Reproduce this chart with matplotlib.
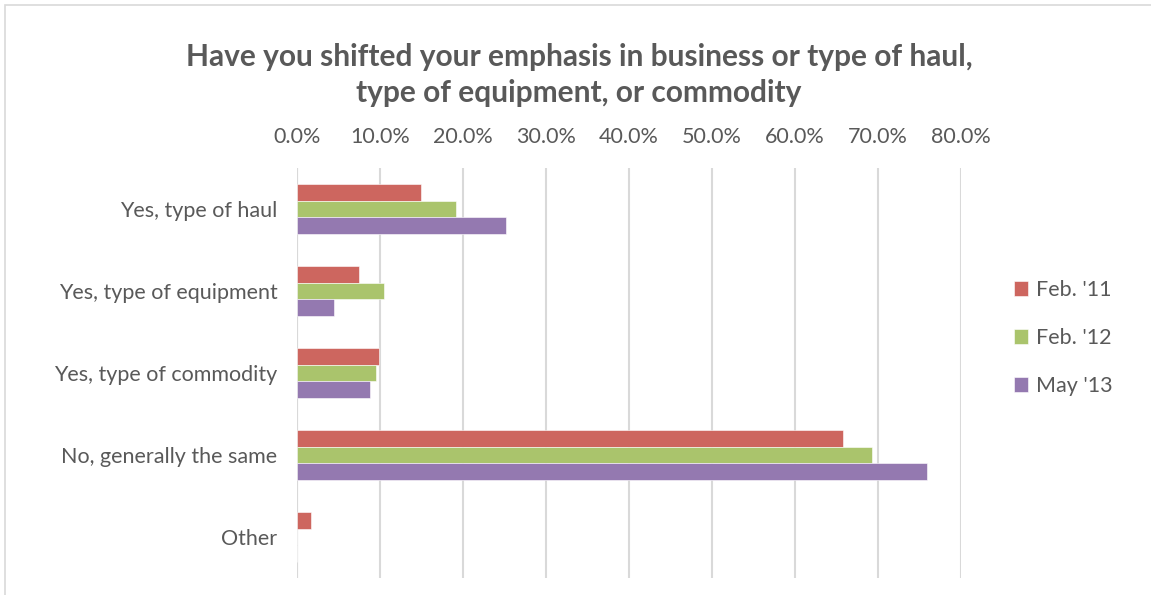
import matplotlib
matplotlib.use("Agg")
import matplotlib.pyplot as plt
from matplotlib.patches import Rectangle
from matplotlib.ticker import FuncFormatter, MultipleLocator
import numpy as np

categories = ["Yes, type of haul", "Yes, type of equipment", "Yes, type of commodity",
              "No, generally the same", "Other"]
series_names = ["Feb. '11", "Feb. '12", "May '13"]
feb_11 = [0.149, 0.075, 0.099, 0.658, 0.017]
feb_12 = [0.192, 0.105, 0.095, 0.693, 0.0]
may_13 = [0.252, 0.044, 0.088, 0.759, 0.0]
colors = ["#CD665F", "#AAC46C", "#9479B0"]
title = "Have you shifted your emphasis in business or type of haul,\ntype of equipment, or commodity"

plt.rcParams["font.family"] = ["Lato", "DejaVu Sans"]
text_color = "#595959"

fig = plt.figure(figsize=(11.51, 5.95), dpi=100)
ax = fig.add_axes([297 / 1151, 1 - 578 / 595, (961 - 297) / 1151, (578 - 168) / 595])

n = len(categories)
y = np.arange(n)
bar_h = 0.205
for i, (vals, name, col) in enumerate(zip([feb_11, feb_12, may_13], series_names, colors)):
    ax.barh(y + (i - 1) * bar_h, vals, height=bar_h, color=col, label=name,
            edgecolor="white", linewidth=0.4)

ax.set_ylim(n - 0.5, -0.5)
ax.set_xlim(0, 0.8)
ax.set_yticks(y)
ax.set_yticklabels(categories, color=text_color, fontsize=15.5)
ax.xaxis.set_major_locator(MultipleLocator(0.1))
ax.xaxis.set_major_formatter(FuncFormatter(lambda v, p: f"{v * 100:.1f}%"))
ax.xaxis.tick_top()
ax.tick_params(axis="x", colors=text_color, labelsize=15.5, length=0, pad=15)
ax.tick_params(axis="y", length=0, pad=14)
for lab in ax.get_xticklabels():
    lab.set_color(text_color)
ax.grid(axis="x", color="#D9D9D9", linewidth=1.5)
ax.set_axisbelow(True)
for s in ax.spines.values():
    s.set_visible(False)
ax.axvline(0, color="#D9D9D9", linewidth=1.5, zorder=0.5)

fig.text(0.503, 1 - 75 / 595, title, ha="center", va="center", fontsize=21.5,
         fontweight="bold", color=text_color, linespacing=1.32)

leg = fig.legend(loc="center left", bbox_to_anchor=(995 / 1151, 1 - 338 / 595),
                 frameon=False, fontsize=15.5, labelspacing=1.3, handlelength=0.65,
                 handleheight=0.65, handletextpad=0.35)
for t in leg.get_texts():
    t.set_color(text_color)

fig.patches.append(Rectangle((5 / 1151, -0.01), 1.02, 1 - 5 / 595 + 0.01,
                             transform=fig.transFigure, fill=False,
                             edgecolor="#D9D9D9", linewidth=1.2))

fig.savefig("out.png", dpi=100, facecolor="white")
